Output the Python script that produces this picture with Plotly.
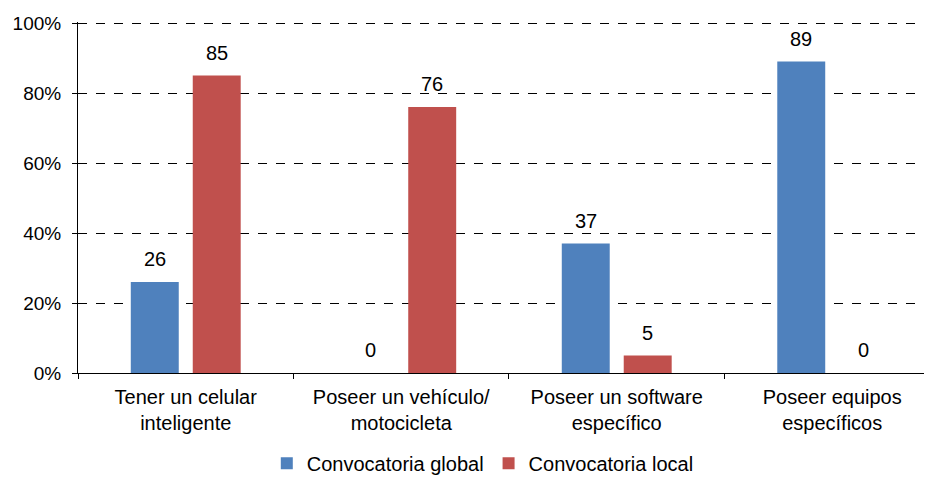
import plotly.graph_objects as go

categories = ["Tener un celular<br>inteligente", "Poseer un vehículo/<br>motocicleta",
              "Poseer un software<br>específico", "Poseer equipos<br>específicos"]
global_vals = [26, 0, 37, 89]
local_vals = [85, 76, 5, 0]
series_names = ["Convocatoria global", "Convocatoria local"]
colors = ["#4F81BD", "#C0504D"]
y_tickvals = [0, 20, 40, 60, 80, 100]
y_ticktext = ["0%", "20%", "40%", "60%", "80%", "100%"]

FONT = "Liberation Sans, Arial, sans-serif"
FS = 20

fig = go.Figure()
for name, vals, col in zip(series_names, [global_vals, local_vals], colors):
    fig.add_trace(go.Bar(x=categories, y=vals, name=name, marker_color=col,
                         marker_line_width=0))

# value labels
for vals, shift in [(global_vals, -31), (local_vals, 31)]:
    for c, v in zip(categories, vals):
        fig.add_annotation(x=c, y=v, text=str(v), showarrow=False, xshift=shift,
                           yanchor="bottom", yshift=10,
                           font=dict(family=FONT, size=FS, color="black"))

fig.update_layout(
    width=924, height=469,
    margin=dict(l=70, r=0, t=14, b=104, autoexpand=False),
    plot_bgcolor="white", paper_bgcolor="white",
    barmode="group", bargap=0.425, bargroupgap=0.226,
    font=dict(family=FONT, size=FS, color="black"),
    showlegend=True,
    legend=dict(orientation="h", x=0.474, xanchor="center", y=-0.257, yanchor="middle",
                font=dict(size=FS), itemwidth=30, tracegroupgap=0),
)
fig.update_xaxes(range=[-0.5, 3.463], showline=True, linecolor="black", linewidth=1,
                 ticks="outside", tickson="boundaries", ticklen=5, tickcolor="black",
                 showgrid=False, tickfont=dict(size=FS), automargin=False,
                 ticklabelstandoff=6)
fig.update_yaxes(range=[0, 100.3], tickvals=y_tickvals, ticktext=y_ticktext,
                 showline=True, linecolor="black", linewidth=1,
                 ticks="outside", ticklen=5, tickcolor="black",
                 showgrid=True, gridcolor="black", griddash="dash", gridwidth=1,
                 zeroline=False, tickfont=dict(size=19), automargin=False,
                 ticklabelstandoff=7)

fig.write_html("out.html")
